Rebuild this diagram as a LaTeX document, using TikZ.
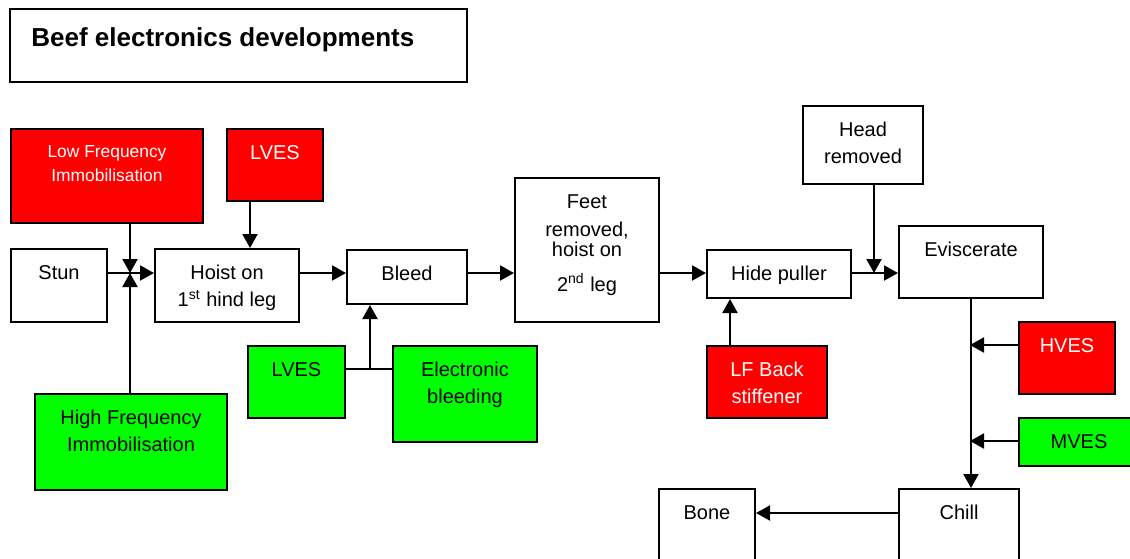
\documentclass[tikz,border=0pt]{standalone}
\usepackage{fontspec}
\setmainfont{Liberation Sans}
\usetikzlibrary{arrows.meta}
\definecolor{boxred}{RGB}{255,0,0}
\definecolor{boxgreen}{RGB}{0,255,0}

\begin{document}
\begin{tikzpicture}[x=0.5pt,y=-0.5pt,
	box/.style 2 args={draw, line width=1pt, inner sep=0pt, anchor=north west,
		minimum width=#1*0.5pt, minimum height=#2*0.5pt},
	txt/.style={anchor=north, yshift=-8.5pt, inner sep=0pt, align=center,
		font=\fontsize{10pt}{13.5pt}\selectfont},
	redtxt/.style={txt, text=white},
	flow/.style={line width=1pt, -{Triangle[length=7pt,width=7.5pt]}},
	link/.style={line width=1pt}]
	
	\useasboundingbox (0,0) rectangle (1130,558);
	\clip (0,0) rectangle (1130,558);
	
	\coordinate (row) at (0,273);
	\coordinate (j1) at (130,273);
	\coordinate (j2) at (370,369);
	\coordinate (j3) at (874,273);
	\coordinate (j4) at (970,345);
	\coordinate (j5) at (970,441);
	\coordinate (j6) at (0,513);
	\coordinate (k1) at (250,0);
	\coordinate (k2) at (730,0);
	
	% Title
	\node [box={457}{73}, label={[txt, anchor=north west, xshift=11pt, yshift=-1pt,
		font=\bfseries\fontsize{13pt}{15pt}\selectfont]north west:Beef electronics developments}] (title) at (9,8) {};
	
	% Stun
	\node [box={96}{73}, label={[txt]north:Stun}] (stun) at (10,248) {};
	
	% Low Frequency Immobilisation
	\node [box={192}{94}, fill=boxred, label={[redtxt, font=\fontsize{8.7pt}{12pt}\selectfont]north:{Low Frequency\\Immobilisation}}] (lfi) at (10,128) {};
	
	% LVES (red)
	\node [box={96}{72}, fill=boxred, label={[redtxt]north:LVES}] (lvesr) at (226,128) {};
	
	% Hoist on 1st hind leg
	\node [box={144}{73}, label={[txt]north:{Hoist on\\1\textsuperscript{st} hind leg}}] (hoist) at (154,248) {};
	
	% High Frequency Immobilisation
	\node [box={192}{96}, fill=boxgreen, label={[txt]north:{High Frequency\\Immobilisation}}] (hfi) at (34,393) {};
	
	% Bleed
	\node [box={120}{54}, label={[txt]north:Bleed}] (bleed) at (346,249) {};
	
	% LVES (green)
	\node [box={97}{72}, fill=boxgreen, label={[txt]north:LVES}] (lvesg) at (247,345) {};
	
	% Electronic bleeding
	\node [box={144}{96}, fill=boxgreen, label={[txt]north:{Electronic\\bleeding}}] (elec) at (392,345) {};
	
	% Feet removed, hoist on 2nd leg
	\node [box={144}{144}, label={[txt]north:{Feet\\[0.5pt]removed,\\[-3.5pt]hoist on\\[4pt]2\textsuperscript{nd} leg}}] (feet) at (514,177) {};
	
	% Hide puller
	\node [box={144}{48}, label={[txt]north:Hide puller}] (hide) at (706,249) {};
	
	% LF Back stiffener
	\node [box={120}{72}, fill=boxred, label={[redtxt]north:{LF Back\\stiffener}}] (lfback) at (706,345) {};
	
	% Head removed
	\node [box={120}{78}, label={[txt]north:{Head\\removed}}] (head) at (802,105) {};
	
	% Eviscerate
	\node [box={144}{72}, label={[txt]north:Eviscerate}] (evisc) at (898,225) {};
	
	% HVES
	\node [box={96}{72}, fill=boxred, label={[redtxt]north:HVES}] (hves) at (1018,321) {};
	
	% MVES
	\node [box={120}{48}, fill=boxgreen, label={[txt]north:MVES}] (mves) at (1018,417) {};
	
	% Chill
	\node [box={120}{90}, label={[txt]north:Chill}] (chill) at (898,488) {};
	
	% Bone
	\node [box={96}{90}, label={[txt]north:Bone}] (bone) at (658,488) {};
	
	% Main line
	\draw [flow] (stun.east |- row) -- (hoist.west |- row);
	\draw [flow] (hoist.east |- row) -- (bleed.west |- row);
	\draw [flow] (bleed.east |- row) -- (feet.west |- row);
	\draw [flow] (feet.east |- row) -- (hide.west |- row);
	\draw [flow] (hide.east |- row) -- (evisc.west |- row);
	\draw [flow] (evisc.south) -- (chill.north -| evisc.south);
	\draw [flow] (chill.west |- j6) -- (bone.east |- j6);
	
	% Immobilisation
	\draw [flow] (lfi.south -| j1) -- (j1);
	\draw [flow] (hfi.north -| j1) -- (j1);
	\draw [flow] (lvesr.south -| k1) -- (hoist.north -| k1);
	
	% Bleeding
	\draw [link] (lvesg.east |- j2) -- (elec.west |- j2);
	\draw [flow] (j2) -- (bleed.south -| j2);
	
	% Head and hide
	\draw [flow] (head.south -| j3) -- (j3);
	\draw [flow] (lfback.north -| k2) -- (hide.south -| k2);
	
	% Stimulation
	\draw [flow] (hves.west |- j4) -- (j4);
	\draw [flow] (mves.west |- j5) -- (j5);
	
\end{tikzpicture}
\end{document}
